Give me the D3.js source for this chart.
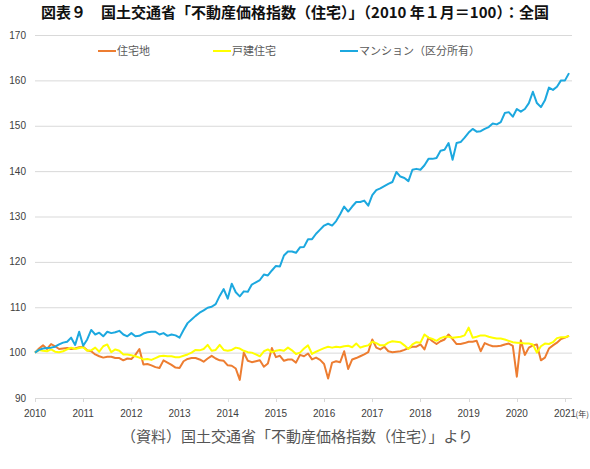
<!DOCTYPE html>
<html>
<head>
<meta charset="utf-8">
<script src="https://cdn.jsdelivr.net/npm/d3@7"></script>
<style>
  html, body { margin: 0; padding: 0; background: #fff; overflow: hidden; }
  svg { display: block; }
</style>
</head>
<body>
<svg id="chart" width="590" height="469"></svg>
<script>
// monthly index, 2010-01 .. 2021-02 (2010-01 = 100)
const startYear = 2010;
const yearTicks = [2010, 2011, 2012, 2013, 2014, 2015, 2016, 2017, 2018, 2019, 2020, 2021];
const yTicks = [90, 100, 110, 120, 130, 140, 150, 160, 170];

const seriesNames = ['住宅地', '戸建住宅', 'マンション（区分所有）'];

const land = [
  100, 100.9, 101.6, 100.8, 101.9, 101.4, 100.8, 100.9, 101.0, 100.8, 100.9, 101.2,
  101.3, 100.5, 100.3, 99.6, 99.2, 98.9, 99.1, 99.1, 98.8, 98.8, 98.3, 98.7,
  98.6, 99.5, 100.8, 97.4, 97.5, 97.2, 96.8, 96.6, 98.3, 97.8, 97.3, 96.7,
  96.6, 98.1, 98.6, 98.8, 98.8, 98.5, 98.0, 98.7, 99.3, 98.7, 98.3, 98.2,
  97.2, 97.1, 96.5, 94.0, 100.0, 98.2, 97.9, 98.1, 98.3, 96.9, 97.6, 101.0,
  99.0, 99.3, 98.2, 98.5, 98.5, 97.8, 99.5, 99.2, 99.8, 98.5, 98.9, 98.4,
  97.5, 94.3, 97.8, 98.1, 97.9, 100.3, 96.4, 98.5, 98.8, 99.2, 99.6, 100.1,
  102.9, 101.1, 100.7, 101.3, 100.3, 100.1, 100.2, 100.3, 100.6, 101.0, 101.3, 101.3,
  101.8, 100.7, 103.3, 102.5, 101.9, 102.5, 102.9, 104.0, 103.0, 101.9, 101.9, 102.1,
  102.4, 102.4, 102.6, 100.3, 102.1, 101.7, 101.4, 101.4, 101.5, 101.8, 102.0, 101.5,
  94.7, 102.7, 99.5, 101.1, 101.6, 101.8, 98.3, 98.9, 100.9, 101.6, 102.2, 103.0,
  103.3, 103.7
];

const detached = [
  100, 100.6, 100.4, 100.3, 100.7, 100.2, 100.1, 100.3, 100.7, 101.1, 100.8, 101.0,
  101.2, 100.4, 100.5, 101.1, 100.2, 101.4, 101.8, 100.1, 100.7, 100.4, 99.6, 99.6,
  99.4, 99.2, 98.9, 98.5, 98.6, 98.4, 98.8, 99.2, 99.3, 99.2, 99.2, 99.0,
  99.0, 99.3, 99.6, 100.0, 100.6, 100.5, 100.8, 101.7, 100.4, 100.6, 101.7, 100.6,
  100.4, 100.6, 101.1, 100.9, 100.4, 100.1, 100.0, 99.6, 99.2, 100.3, 100.7, 100.1,
  100.4, 100.6, 100.4, 101.1, 100.5, 99.7, 100.0, 100.9, 101.6, 99.7, 100.2, 100.6,
  101.0, 101.3, 101.1, 101.3, 101.2, 101.4, 101.5, 101.2, 102.0, 101.1, 101.4, 101.6,
  102.4, 102.1, 101.6, 101.6, 102.2, 102.5, 102.4, 102.3, 101.6, 100.8, 101.8, 102.3,
  102.2, 104.0, 103.3, 103.0, 102.6, 103.2, 103.5, 103.5, 103.3, 103.4, 103.5, 103.8,
  105.5, 103.3, 103.5, 103.8, 103.8, 103.5, 103.3, 103.1, 103.1, 102.9, 102.6, 102.3,
  102.2, 102.1, 102.0, 102.0, 101.8, 100.0, 101.4, 102.0, 101.9, 102.3, 103.2, 103.4,
  103.4, 103.7
];

const condo = [
  100, 100.6, 100.9, 101.0, 101.1, 101.3, 101.8, 102.2, 102.4, 103.3, 101.7, 104.6,
  101.5, 102.9, 105.0, 104.0, 104.4, 103.6, 104.6, 104.3, 104.5, 104.8, 104.0, 103.6,
  104.3, 103.6, 103.7, 104.2, 104.5, 104.6, 104.6, 104.0, 104.3, 103.7, 104.0, 103.8,
  103.3, 105.0, 106.5, 107.3, 108.1, 108.8, 109.3, 109.9, 110.1, 110.7, 112.5, 114.0,
  111.9, 115.2, 113.3, 112.4, 113.5, 113.4, 115.0, 115.5, 116.0, 117.2, 117.0, 118.1,
  119.1, 119.0, 121.4, 122.3, 122.3, 122.0, 123.2, 123.3, 125.0, 125.0, 126.2, 127.1,
  128.0, 128.4, 128.0, 129.0, 130.5, 132.2, 131.1, 132.2, 133.2, 133.2, 133.5, 132.4,
  134.7, 135.8, 136.2, 136.7, 137.2, 137.6, 139.8, 138.8, 138.5, 137.8, 140.3, 140.5,
  140.3, 141.3, 142.7, 142.7, 142.9, 144.5, 144.7, 146.2, 142.5, 146.2, 146.4, 147.4,
  148.5, 149.3, 148.7, 148.8, 149.3, 149.7, 150.5, 150.3, 150.8, 152.8, 153.0, 152.0,
  153.7, 153.1, 153.7, 155.0, 157.5, 155.0, 154.1, 155.6, 158.4, 157.9, 158.6, 160.0,
  160.0, 161.6
];

const colors = ['#ED7D31', '#FFFF00', '#1CA8DF'];
const series = [land, detached, condo];

const svg = d3.select('#chart');
const axisFont = '"Liberation Sans", Arial, sans-serif';
const jpFont = '"Noto Sans CJK JP", sans-serif';

const x = d3.scaleLinear().domain([0, 132]).range([35, 565]);
const y = d3.scaleLinear().domain([90, 170]).range([398, 35]);

// title
svg.append('text')
  .attr('x', 295).attr('y', 18)
  .attr('text-anchor', 'middle')
  .style('font-family', jpFont)
  .style('font-weight', 'bold')
  .style('font-size', '15px')
  .style('fill', '#111')
  .text('図表９　国土交通省「不動産価格指数（住宅）」（2010 年１月＝100）：全国');

// horizontal grid
svg.append('g')
  .selectAll('line')
  .data(yTicks)
  .join('line')
  .attr('x1', 35).attr('x2', 572)
  .attr('y1', d => y(d) + 0.5).attr('y2', d => y(d) + 0.5)
  .style('stroke', '#d9d9d9')
  .style('stroke-width', 1);

// y labels
svg.append('g')
  .selectAll('text')
  .data(yTicks)
  .join('text')
  .attr('x', 26).attr('y', d => y(d) + 3.5)
  .attr('text-anchor', 'end')
  .style('font-family', axisFont)
  .style('font-size', '10px')
  .style('fill', '#404040')
  .text(d => d);

// x axis ticks + labels
const xg = svg.append('g');
xg.selectAll('line')
  .data(yearTicks)
  .join('line')
  .attr('x1', d => Math.round(x((d - startYear) * 12)) + 0.5)
  .attr('x2', d => Math.round(x((d - startYear) * 12)) + 0.5)
  .attr('y1', y(90)).attr('y2', y(90) + 4)
  .style('stroke', '#d9d9d9');
xg.selectAll('text')
  .data(yearTicks)
  .join('text')
  .attr('x', d => x((d - startYear) * 12))
  .attr('y', 417)
  .attr('text-anchor', 'middle')
  .style('font-family', axisFont)
  .style('font-size', '10px')
  .style('fill', '#404040')
  .text(d => d);
svg.append('text')
  .attr('x', 589).attr('y', 417)
  .attr('text-anchor', 'end')
  .style('font-family', jpFont)
  .style('font-size', '8px')
  .style('fill', '#404040')
  .text('(年)');

// lines
const line = d3.line()
  .x((d, i) => x(i))
  .y(d => y(d));

svg.append('g')
  .selectAll('path')
  .data(series)
  .join('path')
  .attr('d', line)
  .style('fill', 'none')
  .style('stroke', (d, i) => colors[i])
  .style('stroke-width', 2)
  .style('stroke-linejoin', 'round');

// legend
const legendX = [98, 213, 340];
const lg = svg.append('g')
  .selectAll('g')
  .data(seriesNames)
  .join('g')
  .attr('transform', (d, i) => `translate(${legendX[i]},51)`);
lg.append('line')
  .attr('x1', 0).attr('x2', 18)
  .style('stroke', (d, i) => colors[i])
  .style('stroke-width', 2);
lg.append('text')
  .attr('x', 19).attr('y', 4)
  .style('font-family', jpFont)
  .style('font-size', '11px')
  .style('fill', '#595959')
  .text(d => d);

// source note
svg.append('text')
  .attr('x', 297).attr('y', 442)
  .attr('text-anchor', 'middle')
  .style('font-family', jpFont)
  .style('font-size', '15px')
  .style('fill', '#555')
  .text('（資料）国土交通省「不動産価格指数（住宅）」より');
</script>
</body>
</html>
